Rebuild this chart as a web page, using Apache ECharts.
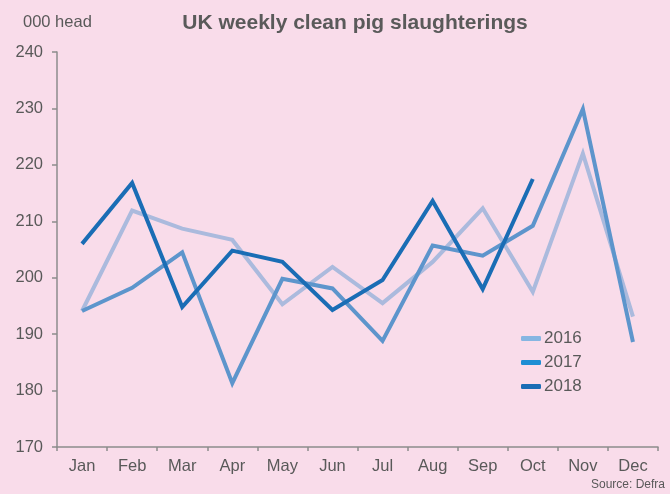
<!DOCTYPE html>
<html>
<head>
<meta charset="utf-8">
<script src="https://cdn.jsdelivr.net/npm/echarts@6/dist/echarts.min.js"></script>
<style>
  html, body { margin: 0; padding: 0; background: #f9dcea; }
  #chart { width: 670px; height: 494px; }
</style>
</head>
<body>
<div id="chart"></div>
<script>
const months = ['Jan', 'Feb', 'Mar', 'Apr', 'May', 'Jun', 'Jul', 'Aug', 'Sep', 'Oct', 'Nov', 'Dec']
const y2016 = [194.1, 211.9, 208.7, 206.7, 195.3, 201.9, 195.5, 202.8, 212.3, 197.5, 222.0, 193.1]
const y2017 = [194.1, 198.2, 204.5, 181.3, 199.8, 198.1, 188.8, 205.7, 203.9, 209.2, 229.9, 188.6]
const y2018 = [206.0, 216.8, 194.8, 204.8, 202.8, 194.3, 199.6, 213.6, 198.0, 217.5, null, null]

const lineColors = ['#abbadd', '#5d95cc', '#1a6db5']
const legendColors = ['#86b6e2', '#1e8ed4', '#1a6db5']
const names = ['2016', '2017', '2018']
const data = [y2016, y2017, y2018]

const chart = echarts.init(document.getElementById('chart'), null, { renderer: 'canvas' })
const textColor = '#595959'
const axisColor = '#8c8c8c'
const font = 'Liberation Sans, Arial, sans-serif'

chart.setOption({
  backgroundColor: '#f9dcea',
  animation: false,
  title: {
    text: 'UK weekly clean pig slaughterings',
    left: 350,
    textAlign: 'center',
    top: 8,
    textStyle: { fontSize: 21, fontWeight: 'bold', color: '#5a5a5a', fontFamily: font },
  },
  graphic: [
    { type: 'text', left: 23, top: 14, style: { text: '000 head', fontSize: 16.5, fill: textColor, fontFamily: font } },
    { type: 'text', right: 5, top: 479, style: { text: 'Source: Defra', fontSize: 12, fill: textColor, fontFamily: font } },
  ],
  legend: {
    orient: 'vertical',
    left: 516,
    top: 325,
    itemWidth: 20,
    itemHeight: 5,
    itemGap: 7,
    icon: 'roundRect',
    textStyle: { fontSize: 17, color: textColor, fontFamily: font, padding: [0, 0, 0, -2] },
    data: names.map((n, i) => ({ name: n, itemStyle: { color: legendColors[i] } })),
  },
  grid: { left: 57, right: 12, top: 52, bottom: 47 },
  xAxis: {
    type: 'category',
    data: months,
    boundaryGap: true,
    axisLine: { lineStyle: { color: axisColor, width: 1.5 } },
    axisTick: { show: true, alignWithLabel: false, length: 4, lineStyle: { color: axisColor, width: 1.5 } },
    axisLabel: { color: textColor, fontSize: 16.5, margin: 11, fontFamily: font },
  },
  yAxis: {
    type: 'value',
    min: 170,
    max: 240,
    interval: 10,
    splitLine: { show: false },
    axisLine: { show: true, lineStyle: { color: axisColor, width: 1.5 } },
    axisTick: { show: true, length: 5, lineStyle: { color: axisColor, width: 1.5 } },
    axisLabel: { color: textColor, fontSize: 16.5, margin: 14, fontFamily: font },
  },
  series: names.map((n, i) => ({
    name: n,
    type: 'line',
    data: data[i],
    symbol: 'none',
    lineStyle: { color: lineColors[i], width: 4, join: 'miter' },
    itemStyle: { color: lineColors[i] },
  })),
})
</script>
</body>
</html>
